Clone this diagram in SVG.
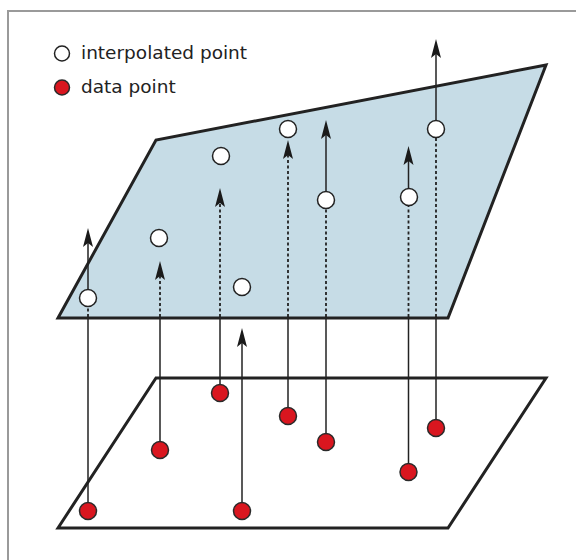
<svg xmlns="http://www.w3.org/2000/svg" width="576" height="560" viewBox="0 0 576 560">
<style>
.frame{fill:none;stroke:#9a9a9a;stroke-width:2}
.plane{stroke:#222;stroke-width:3;stroke-linejoin:miter}
.ln{stroke:#222;stroke-width:1.5;fill:none}
.dot{stroke:#222;stroke-width:1.8;fill:none;stroke-dasharray:3 2.5}
.ah{fill:#1a1a1a}
.data{fill:#d9161f;stroke:#2a2a2a;stroke-width:1.5}
.interp{fill:#fff;stroke:#222;stroke-width:1.5}
.lbl{font-family:"DejaVu Sans",sans-serif;font-size:18.5px;fill:#222}
</style>
<defs>
<path id="ah" d="M0,0 L5,19 L0,15 L-5,19 Z"/>
</defs>
<rect width="576" height="560" fill="#fff"/>
<path class="frame" d="M8,560 V11 H576"/>

<g id="legend">
<circle class="interp" cx="62" cy="53.5" r="7.5"/>
<text class="lbl" x="81" y="59">interpolated point</text>
<circle class="data" cx="62" cy="87.5" r="7.5"/>
<text class="lbl" x="81" y="93">data point</text>
</g>

<g id="lower-plane">
<polygon class="plane" fill="#fff" points="58,528 156,378 546,378 448,528"/>
</g>

<g id="connectors-below">
<line class="ln" x1="88" y1="511" x2="88" y2="318"/>
<line class="ln" x1="160" y1="450" x2="160" y2="318"/>
<line class="ln" x1="220" y1="393" x2="220" y2="318"/>
<line class="ln" x1="288" y1="415" x2="288" y2="318"/>
<line class="ln" x1="326" y1="441" x2="326" y2="318"/>
<line class="ln" x1="408.5" y1="471" x2="408.5" y2="318"/>
<line class="ln" x1="436" y1="427" x2="436" y2="318"/>
<line class="ln" x1="242" y1="511" x2="242" y2="342"/>
<use href="#ah" class="ah" x="242" y="328"/>
</g>

<g id="upper-plane">
<polygon class="plane" fill="#c6dce6" points="58,318 156,140 546,65 448,318"/>
</g>

<g id="connectors-above">
<line class="dot" x1="88" y1="317" x2="88" y2="298"/>
<line class="ln" x1="88" y1="298" x2="88" y2="242"/>
<use href="#ah" class="ah" x="88" y="228"/>
<line class="dot" x1="160" y1="317" x2="160" y2="274"/>
<use href="#ah" class="ah" x="160" y="261"/>
<line class="dot" x1="220" y1="317" x2="220" y2="202"/>
<use href="#ah" class="ah" x="220" y="188"/>
<line class="dot" x1="288" y1="317" x2="288" y2="154"/>
<use href="#ah" class="ah" x="288" y="140"/>
<line class="dot" x1="326" y1="317" x2="326" y2="200"/>
<line class="ln" x1="326" y1="200" x2="326" y2="134"/>
<use href="#ah" class="ah" x="326" y="120"/>
<line class="dot" x1="408.5" y1="317" x2="408.5" y2="197"/>
<line class="ln" x1="408.5" y1="197" x2="408.5" y2="160"/>
<use href="#ah" class="ah" x="408.5" y="146"/>
<line class="dot" x1="436" y1="317" x2="436" y2="129"/>
<line class="ln" x1="436" y1="129" x2="436" y2="53"/>
<use href="#ah" class="ah" x="436" y="39"/>
</g>

<g id="interpolated-points">
<circle class="interp" cx="88" cy="298" r="8.5"/>
<circle class="interp" cx="159" cy="238" r="8.5"/>
<circle class="interp" cx="221" cy="156" r="8.5"/>
<circle class="interp" cx="242" cy="287" r="8.5"/>
<circle class="interp" cx="288" cy="129" r="8.5"/>
<circle class="interp" cx="326" cy="200" r="8.5"/>
<circle class="interp" cx="409" cy="197" r="8.5"/>
<circle class="interp" cx="436" cy="129" r="8.5"/>
</g>

<g id="data-points">
<circle class="data" cx="88" cy="511" r="8.5"/>
<circle class="data" cx="160" cy="450" r="8.5"/>
<circle class="data" cx="220" cy="393" r="8.5"/>
<circle class="data" cx="242" cy="511" r="8.5"/>
<circle class="data" cx="288" cy="416" r="8.5"/>
<circle class="data" cx="326" cy="442" r="8.5"/>
<circle class="data" cx="408.5" cy="472" r="8.5"/>
<circle class="data" cx="436" cy="428" r="8.5"/>
</g>
</svg>
